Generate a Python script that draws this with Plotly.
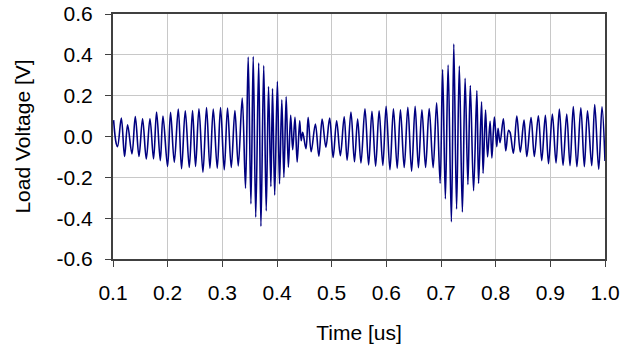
import plotly.graph_objects as go

# Extrema of the load-voltage waveform (time in us, volts)
time_us = [
    0.1011, 0.1060, 0.1084, 0.1152, 0.1212, 0.1267, 0.1347, 0.1408, 0.1475, 0.1541,
    0.1609, 0.1676, 0.1742, 0.1797, 0.1865, 0.1914, 0.1998, 0.2053, 0.2121, 0.2194,
    0.2254, 0.2322, 0.2395, 0.2455, 0.2510, 0.2572, 0.2645, 0.2711, 0.2773, 0.2834,
    0.2907, 0.2967, 0.3035, 0.3095, 0.3163, 0.3230, 0.3291, 0.3364, 0.3424, 0.3473,
    0.3523, 0.3565, 0.3611, 0.3665, 0.3706, 0.3757, 0.3803, 0.3845, 0.3888, 0.3918,
    0.3958, 0.4007, 0.4046, 0.4088, 0.4126, 0.4168, 0.4208, 0.4250, 0.4287, 0.4329,
    0.4369, 0.4415, 0.4442, 0.4470, 0.4530, 0.4570, 0.4625, 0.4702, 0.4766, 0.4826,
    0.4894, 0.4963, 0.5027, 0.5091, 0.5159, 0.5229, 0.5283, 0.5353, 0.5417, 0.5475,
    0.5536, 0.5609, 0.5676, 0.5737, 0.5804, 0.5868, 0.5936, 0.5996, 0.6066, 0.6130,
    0.6199, 0.6258, 0.6327, 0.6393, 0.6462, 0.6527, 0.6587, 0.6651, 0.6718, 0.6784,
    0.6856, 0.6920, 0.6984, 0.7029, 0.7080, 0.7130, 0.7190, 0.7234, 0.7285, 0.7335,
    0.7391, 0.7441, 0.7492, 0.7536, 0.7596, 0.7656, 0.7687, 0.7742, 0.7770, 0.7815,
    0.7852, 0.7898, 0.7931, 0.7976, 0.8020, 0.8044, 0.8080, 0.8141, 0.8185, 0.8236,
    0.8263, 0.8324, 0.8387, 0.8450, 0.8519, 0.8570, 0.8647, 0.8707, 0.8781, 0.8843,
    0.8909, 0.8967, 0.9037, 0.9104, 0.9165, 0.9232, 0.9300, 0.9360, 0.9420, 0.9486,
    0.9558, 0.9622, 0.9680, 0.9757, 0.9812, 0.9885, 0.9945, 1.0000,
]
voltage_v = [
    0.080, -0.036, -0.050, 0.090, -0.098, 0.057, -0.085, 0.098, -0.098, 0.087,
    -0.110, 0.087, -0.110, 0.120, -0.118, 0.100, -0.147, 0.118, -0.126, 0.135,
    -0.158, 0.126, -0.152, 0.127, -0.147, 0.136, -0.175, 0.142, -0.155, 0.134,
    -0.155, 0.142, -0.163, 0.139, -0.152, 0.127, -0.144, 0.188, -0.253, 0.389,
    -0.330, 0.392, -0.395, 0.360, -0.440, 0.347, -0.364, 0.245, -0.245, 0.235,
    -0.287, 0.270, -0.232, 0.180, -0.200, 0.195, -0.150, 0.104, -0.065, 0.094,
    -0.125, 0.077, -0.020, 0.020, -0.060, 0.094, -0.075, 0.061, -0.097, 0.085,
    -0.052, 0.090, -0.103, 0.077, -0.094, 0.096, -0.116, 0.120, -0.124, 0.086,
    -0.130, 0.136, -0.139, 0.124, -0.145, 0.126, -0.142, 0.148, -0.163, 0.136,
    -0.155, 0.131, -0.152, 0.143, -0.170, 0.148, -0.153, 0.131, -0.152, 0.137,
    -0.153, 0.165, -0.229, 0.328, -0.305, 0.350, -0.418, 0.453, -0.355, 0.345,
    -0.370, 0.285, -0.235, 0.250, -0.265, 0.225, -0.230, 0.170, -0.180, 0.130,
    -0.100, 0.075, -0.105, 0.095, -0.050, 0.040, -0.030, 0.087, -0.070, 0.030,
    0.020, -0.082, 0.100, -0.076, 0.080, -0.098, 0.093, -0.098, 0.102, -0.118,
    0.104, -0.133, 0.110, -0.130, 0.134, -0.141, 0.110, -0.143, 0.147, -0.148,
    0.140, -0.148, 0.126, -0.143, 0.156, -0.160, 0.146, -0.120,
]

x_ticks = [0.1, 0.2, 0.3, 0.4, 0.5, 0.6, 0.7, 0.8, 0.9, 1.0]
x_ticklabels = ["0.1", "0.2", "0.3", "0.4", "0.5", "0.6", "0.7", "0.8", "0.9", "1.0"]
y_ticks = [-0.6, -0.4, -0.2, 0.0, 0.2, 0.4, 0.6]
y_ticklabels = ["-0.6", "-0.4", "-0.2", "0.0", "0.2", "0.4", "0.6"]

FONT = "Liberation Sans, Arial, sans-serif"

fig = go.Figure()
fig.add_trace(go.Scatter(
    x=time_us, y=voltage_v, mode="lines",
    line=dict(color="#000080", width=1.6, shape="spline", smoothing=1.0),
    showlegend=False,
))

axis_common = dict(
    showgrid=True, gridcolor="#c8c8c8", gridwidth=1,
    showline=True, linecolor="#404040", linewidth=2, mirror=True,
    ticks="outside", ticklen=6, tickwidth=1, tickcolor="#404040",
    zeroline=False,
    ticklabeloverflow="allow",
    tickfont=dict(family=FONT, size=21, color="black"),
)

fig.update_xaxes(
    range=[0.1, 1.0], tickmode="array", tickvals=x_ticks, ticktext=x_ticklabels,
    title=dict(text="Time [us]", font=dict(family=FONT, size=21, color="black"), standoff=22),
    ticklabelstandoff=8,
    **axis_common,
)
fig.update_yaxes(
    range=[-0.6, 0.6], tickmode="array", tickvals=y_ticks, ticktext=y_ticklabels,
    title=dict(text="Load Voltage [V]", font=dict(family=FONT, size=21, color="black"), standoff=20),
    ticklabelstandoff=8,
    **axis_common,
)

fig.update_layout(
    width=621, height=352,
    margin=dict(l=113, r=16, t=14, b=93, autoexpand=False),
    paper_bgcolor="white", plot_bgcolor="white",
    font=dict(family=FONT, size=21, color="black"),
)

# Remove the browser's default 8px body margin so the figure fills the window.
fig.write_html(
    "out.html",
    config={"displayModeBar": False},
    post_script="document.body.style.margin='0';document.documentElement.style.overflow='hidden';",
)
